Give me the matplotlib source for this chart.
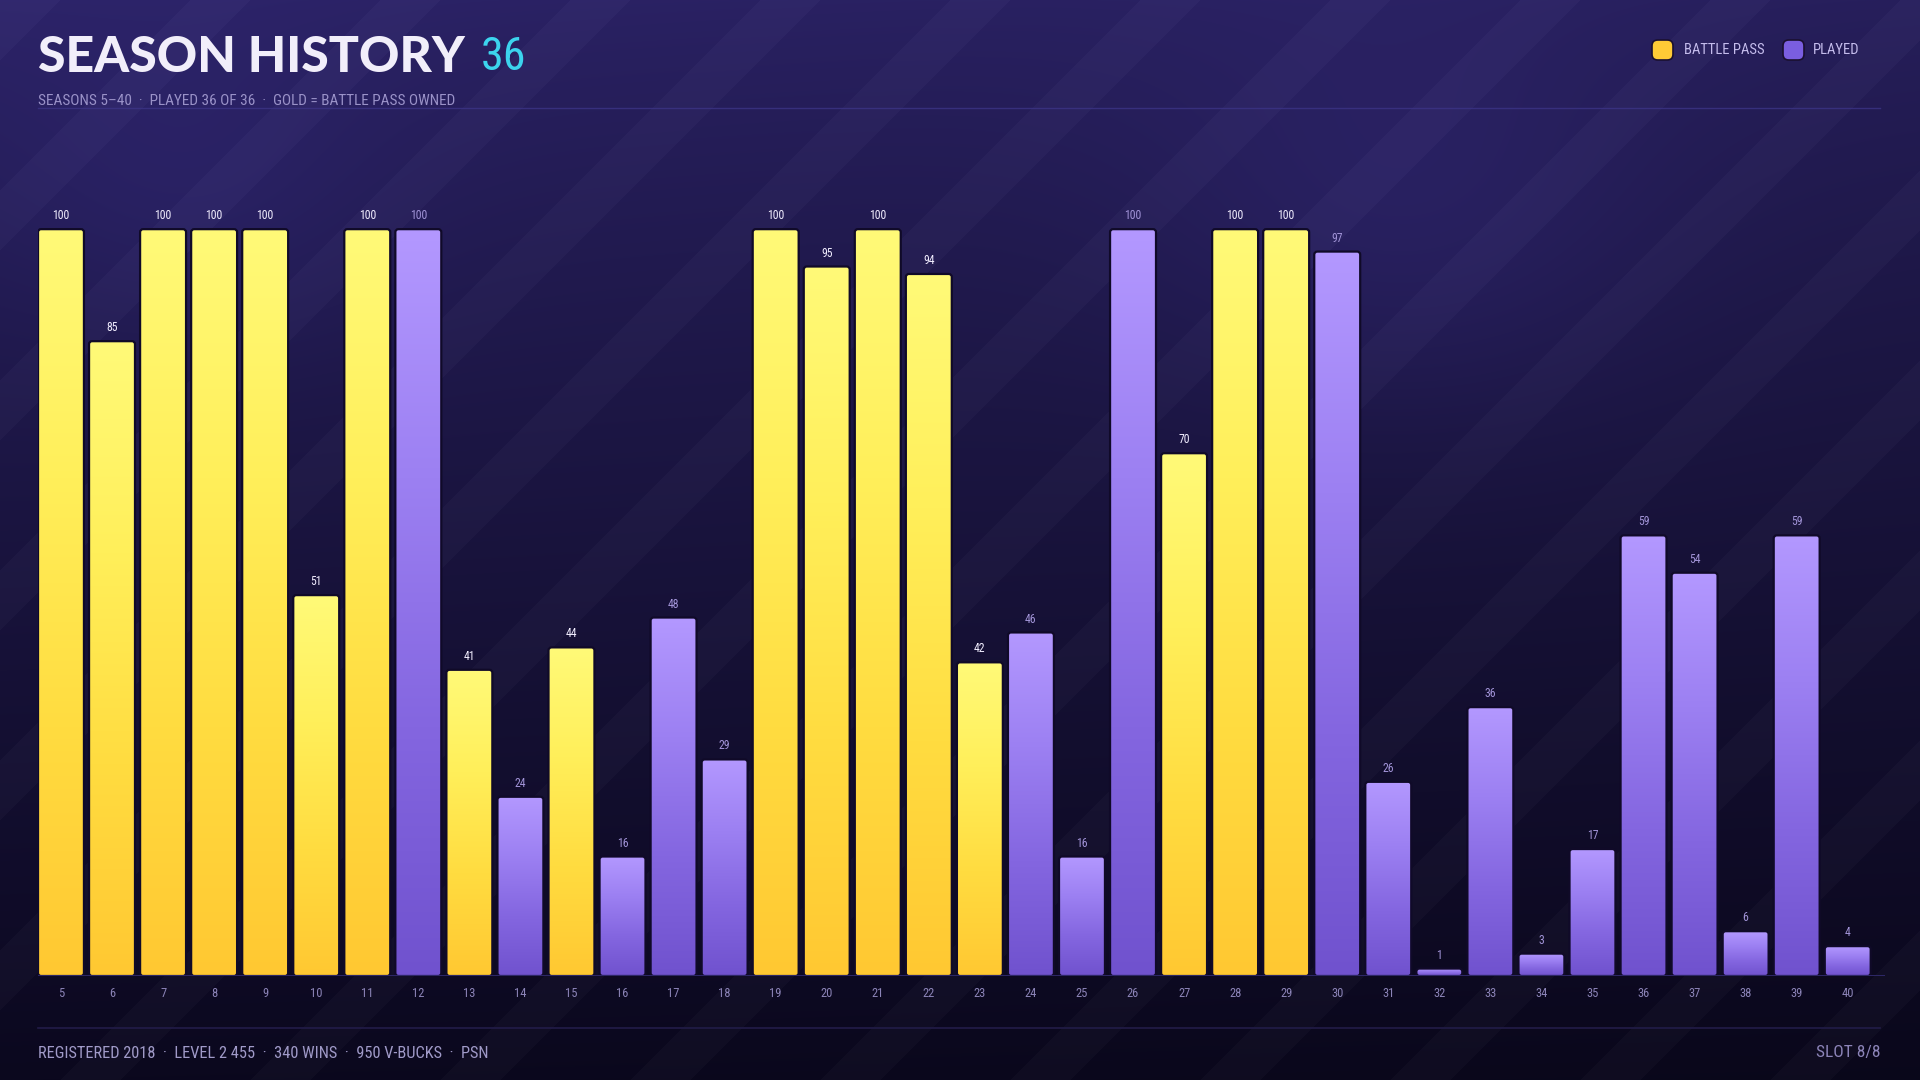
import numpy as np
import matplotlib
matplotlib.use('Agg')
import matplotlib.pyplot as plt
from matplotlib import font_manager
from matplotlib.patches import FancyBboxPatch
from matplotlib.colors import LinearSegmentedColormap

# season data
seasons = list(range(5, 41))
progress = [100, 85, 100, 100, 100, 51, 100, 100, 41, 24, 44, 16, 48, 29,
            100, 95, 100, 94, 42, 46, 16, 100, 70, 100, 100, 97, 26, 1, 36, 3,
            17, 59, 54, 6, 59, 4]
battle_pass = [1, 1, 1, 1, 1, 1, 1, 0, 1, 0, 1, 0, 0, 0,
               1, 1, 1, 1, 1, 0, 0, 0, 1, 1, 1, 0, 0, 0, 0, 0,
               0, 0, 0, 0, 0, 0]

title = 'SEASON HISTORY'
title_count = '36'
subtitle = 'SEASONS 5\u201340  \u00b7  PLAYED 36 OF 36  \u00b7  GOLD = BATTLE PASS OWNED'
footer = 'REGISTERED 2018  \u00b7  LEVEL 2 455  \u00b7  340 WINS  \u00b7  950 V-BUCKS  \u00b7  PSN'
slot = 'SLOT 8/8'

# pick fonts that exist
installed = {f.name for f in font_manager.fontManager.ttflist}
cond = 'DejaVu Sans'
for name in ['Liberation Sans Narrow', 'Roboto Condensed', 'Open Sans Condensed', 'DejaVu Sans']:
    if name in installed:
        cond = name
        break
head = 'Lato' if 'Lato' in installed else 'DejaVu Sans'

W, H = 1920, 1080
fig = plt.figure(figsize=(W / 100, H / 100), dpi=100)

# background: dark purple gradient with faint diagonal stripes
yy, xx = np.mgrid[0:H, 0:W]
t = (yy / H) ** 0.85
top = np.array([0x2C, 0x23, 0x68]) / 255
bot = np.array([0x0B, 0x08, 0x1E]) / 255
bg = top[None, None, :] * (1 - t[..., None]) + bot[None, None, :] * t[..., None]
bg *= (1 - 0.12 * (xx / W))[..., None]
stripes = (((xx + yy) % 190) < 60).astype(float)
bg += stripes[..., None] * 0.02
glow = np.exp(-(((xx - 1410) / 260.0) ** 2 + ((yy - 230) / 200.0) ** 2))
bg += glow[..., None] * np.array([0.03, 0.025, 0.07])
glow2 = np.exp(-(((xx - 190) / 200.0) ** 2 + ((yy - 200) / 160.0) ** 2))
bg += glow2[..., None] * np.array([0.02, 0.018, 0.05])
bg = np.clip(bg, 0, 1)

bgax = fig.add_axes([0, 0, 1, 1], zorder=-5)
bgax.imshow(bg, aspect='auto', extent=[0, 1, 0, 1], origin='upper')
bgax.set_xlim(0, 1)
bgax.set_ylim(0, 1)
bgax.axis('off')

# main bar axes
ax = fig.add_axes([38 / W, 1 - 976 / H, (1885 - 38) / W, (976 - 150) / H])
ax.set_facecolor('none')

gold_cmap = LinearSegmentedColormap.from_list('gold', ['#FFC832', '#FFDC40', '#FFEF5A', '#FFFA78'])
purple_cmap = LinearSegmentedColormap.from_list('purple', ['#7052CE', '#8466E0', '#9C80F2', '#B398FF'])
grad = np.linspace(1, 0, 256).reshape(-1, 1)

x = np.arange(len(seasons))
bw = 0.9
for i, (v, bp) in enumerate(zip(progress, battle_pass)):
    x0 = i - bw / 2
    box = FancyBboxPatch((x0, 0), bw, v, boxstyle='round,pad=0,rounding_size=0.06',
                         mutation_aspect=6.8, facecolor='none',
                         edgecolor='#100A28', linewidth=1.6, zorder=4)
    ax.add_patch(box)
    im = ax.imshow(grad, cmap=gold_cmap if bp else purple_cmap, vmin=0, vmax=1,
                   extent=[x0, x0 + bw, 0, v], aspect='auto', origin='upper', zorder=3)
    im.set_clip_path(box)
    ax.annotate(str(v), (i, v), xytext=(0, 5), textcoords='offset points',
                ha='center', va='bottom', fontsize=8.5, family=cond,
                color='#F2EEFF' if bp else '#A294D8')

ax.axhline(0, color='#2E2868', linewidth=1.4, zorder=5)
ax.set_xlim(-0.45, 35.73)
ax.set_ylim(0, 110.6)
ax.set_xticks(x)
ax.set_xticklabels([str(s) for s in seasons], family=cond, fontsize=9, color='#8C84B8')
ax.tick_params(axis='x', length=0, pad=8)
ax.set_yticks([])
for s in ax.spines.values():
    s.set_visible(False)

# header
fig.text(38 / W, 1 - 57 / H, title, family=head, fontweight='black', fontsize=36,
         color='#F1EEFA', va='center', ha='left')
fig.text(481 / W, 1 - 57 / H, title_count, family=cond, fontsize=33,
         color='#3CD4EE', va='center', ha='left')
fig.text(38 / W, 1 - 101 / H, subtitle, family=cond, fontsize=11,
         color='#9A92C8', va='center', ha='left')
fig.add_artist(plt.Line2D([38 / W, 1880 / W], [1 - 108 / H, 1 - 108 / H],
                          color='#3C3486', linewidth=1.0, alpha=0.8))

# legend
for sx, label, fc, tx in [(1652, 'BATTLE PASS', '#FFCB36', 1684), (1783, 'PLAYED', '#7A5EE0', 1813)]:
    sq = FancyBboxPatch((sx / W, 1 - 60 / H), 21 / W, 20 / H,
                        boxstyle='round,pad=0,rounding_size=0.003', mutation_aspect=1.78,
                        transform=fig.transFigure, facecolor=fc,
                        edgecolor='#1A1030', linewidth=1.2)
    fig.add_artist(sq)
    fig.text(tx / W, 1 - 50 / H, label, family=cond, fontsize=10.5,
             color='#C4BCEC', va='center', ha='left')

# footer
fig.add_artist(plt.Line2D([38 / W, 1880 / W], [1 - 1028 / H, 1 - 1028 / H],
                          color='#221C48', linewidth=1.2))
fig.text(38 / W, 1 - 1053 / H, footer, family=cond, fontsize=11.8,
         color='#A09AC8', va='center', ha='left')
fig.text(1881 / W, 1 - 1053 / H, slot, family=cond, fontsize=12.5,
         color='#8C84B8', va='center', ha='right')

fig.savefig('out.png', dpi=100)
